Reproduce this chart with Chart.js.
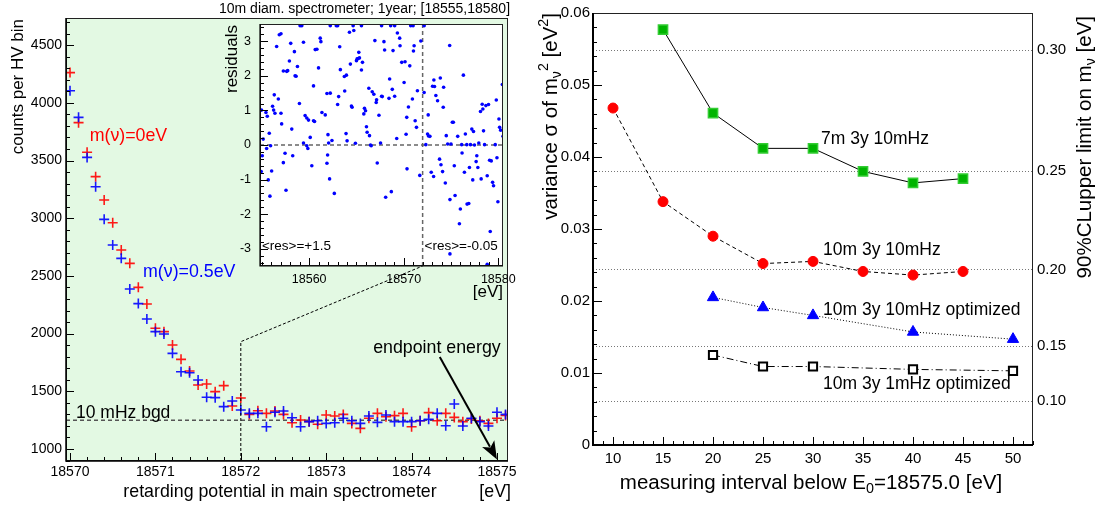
<!DOCTYPE html>
<html>
<head>
<meta charset="utf-8">
<script src="https://cdn.jsdelivr.net/npm/chart.js@4.4.1/dist/chart.umd.min.js"></script>
<style>
  html, body { margin: 0; padding: 0; background: #fff; }
  #wrap { position: relative; width: 1101px; height: 506px; overflow: hidden; }
  canvas { position: absolute; top: 0; }
</style>
</head>
<body>
<div id="wrap">
  <canvas id="spec" width="530" height="506" style="left:0"></canvas>
  <canvas id="resid" width="530" height="506" style="left:0"></canvas>
  <canvas id="sens" width="571" height="506" style="left:530px"></canvas>
</div>
<script>
// ---- left panel: integrated spectrum near the endpoint ----
const energies = [
  18570.0, 18570.1, 18570.2, 18570.3, 18570.4, 18570.5, 18570.6, 18570.7, 18570.8, 18570.9,
  18571.0, 18571.1, 18571.2, 18571.3, 18571.4, 18571.5, 18571.6, 18571.7, 18571.8, 18571.9,
  18572.0, 18572.1, 18572.2, 18572.3, 18572.4, 18572.5, 18572.6, 18572.7, 18572.8, 18572.9,
  18573.0, 18573.1, 18573.2, 18573.3, 18573.4, 18573.5, 18573.6, 18573.7, 18573.8, 18573.9,
  18574.0, 18574.1, 18574.2, 18574.3, 18574.4, 18574.5, 18574.6, 18574.7, 18574.8, 18574.9,
  18575.0, 18575.1
];
const countsMass0 = [
  4262, 3828, 3571, 3360, 3158, 2961, 2724, 2609, 2401, 2256,
  2046, 2017, 1901, 1777, 1676, 1555, 1563, 1497, 1549, 1373,
  1442, 1300, 1332, 1309, 1329, 1300, 1228, 1251, 1237, 1214,
  1295, 1286, 1300, 1222, 1179, 1266, 1309, 1280, 1289, 1309,
  1193, 1245, 1315, 1245, 1309, 1274, 1237, 1260, 1245, 1222,
  1266, 1290
];
const countsMass05 = [
  4105, 3874, 3527, 3273, 2990, 2768, 2652, 2386, 2260, 2127,
  2017, 1996, 1829, 1670, 1661, 1598, 1448, 1445, 1367, 1416,
  1338, 1309, 1309, 1193, 1318, 1329, 1271, 1193, 1237, 1245,
  1222, 1228, 1266, 1245, 1222, 1286, 1231, 1295, 1237, 1237,
  1237, 1245, 1257, 1309, 1202, 1390, 1199, 1266, 1237, 1199,
  1318, 1300
];
const specXTicks = [18570, 18571, 18572, 18573, 18574, 18575];
const specYTicks = [1000, 1500, 2000, 2500, 3000, 3500, 4000, 4500];
const bgdLevel = 1250;
const zoomStart = 18572;
const zoomCount = 1930;
const endpoint = 18575;

// ---- inset: residuals ----
const resE = [
  18559.04, 18559.22, 18562.23, 18562.87, 18563.01, 18564.65, 18565.53, 18567.66, 18568.62, 18569.04, 18570.74, 18570.99, 18572.16,
  18556.84, 18557.02, 18556.56, 18559.40, 18558.05, 18558.44, 18557.91, 18557.27, 18557.62, 18557.73,
  18558.51, 18558.62, 18558.76, 18558.97, 18556.31, 18556.74, 18556.13, 18556.24, 18556.38, 18554.96,
  18555.43, 18555.57, 18557.02, 18557.09, 18558.16, 18555.78, 18555.14, 18555.50, 18555.92, 18555.04,
  18554.93, 18556.03, 18555.67, 18555.85, 18557.55, 18557.27, 18557.45, 18558.26, 18559.40, 18559.57,
  18559.75, 18559.93, 18560.11, 18560.28, 18559.75, 18559.86, 18560.46, 18560.57, 18560.46, 18560.64,
  18560.82, 18560.99, 18561.17, 18561.24, 18561.35, 18561.70, 18561.88, 18561.99, 18562.06, 18561.95,
  18561.88, 18562.23, 18562.16, 18562.66, 18562.41, 18563.12, 18563.01, 18563.23, 18563.30, 18563.72,
  18563.76, 18563.94, 18563.90, 18564.01, 18564.26, 18564.36, 18564.47, 18564.54, 18564.72, 18565.00,
  18565.07, 18565.18, 18565.25, 18565.32, 18565.53, 18565.64, 18564.89, 18565.78, 18565.85, 18565.96,
  18566.06, 18566.13, 18566.38, 18566.31, 18566.49, 18566.56, 18566.67, 18566.84, 18566.95, 18567.09,
  18567.13, 18567.20, 18567.38, 18567.55, 18567.66, 18567.73, 18567.91, 18567.98, 18568.09, 18568.44,
  18568.51, 18568.69, 18568.79, 18568.87, 18569.04, 18569.26, 18569.33, 18569.57, 18569.61, 18569.79,
  18570.04, 18570.14, 18570.25, 18570.32, 18570.35, 18570.50, 18570.64, 18570.92, 18571.10, 18571.03,
  18571.21, 18571.35, 18571.45, 18571.81, 18571.70, 18572.16,
  18572.34, 18572.52, 18572.59, 18572.77, 18572.62, 18572.91, 18573.05, 18573.16, 18573.19, 18573.26,
  18573.40, 18573.58, 18573.79, 18573.94, 18573.87, 18574.11, 18574.18, 18574.22, 18574.40, 18574.50,
  18574.65, 18574.89, 18575.00, 18574.86, 18575.14, 18575.25, 18575.35, 18575.43, 18575.71, 18575.89,
  18575.99, 18576.13, 18576.17, 18576.31, 18576.42, 18576.52, 18576.70, 18576.88, 18576.67, 18576.95,
  18577.06, 18577.20, 18577.30, 18577.38, 18577.48, 18577.66, 18577.73, 18577.84, 18577.94, 18578.12,
  18578.19, 18578.30, 18578.37, 18578.44, 18578.55, 18578.69, 18578.83, 18578.97, 18579.08, 18579.15,
  18579.26, 18579.40, 18579.50, 18579.68, 18579.79, 18579.86, 18579.96, 18580.07, 18580.14, 18580.25,
  18580.43, 18580.50, 18574.89, 18578.83
];
const resVal = [
  3.45, 3.45, 3.45, 3.45, 3.45, 3.45, 3.45, 3.45, 3.45, 3.45, 3.45, 3.45, 3.45,
  3.19, 3.22, 2.85, 2.97, 2.94, 2.70, 2.43, 2.14, 2.13, 2.15,
  2.00, 1.99, 2.27, 1.20, 1.45, 1.33, 1.12, 1.01, 0.92, 1.01,
  0.94, 0.83, 0.92, 0.61, 0.46, 0.34, 0.17, -0.10, -0.02, -0.31,
  -0.77, -0.75, -1.01, -1.48, -1.31, -0.51, -0.24, -0.31, 0.06, 0.85,
  0.78, 0.72, 0.22, -0.60, -0.02, -0.10, 0.70, 0.68, 1.71, 2.76,
  2.77, 2.23, 3.09, 2.99, 0.94, 0.87, 1.49, 0.30, 0.06, -0.29,
  -0.53, 1.50, -0.98, -1.40, 0.13, 1.40, 1.17, 2.84, 2.18, 1.98,
  1.56, 2.02, 0.33, 0.12, 3.26, 2.34, 1.13, 1.09, 3.31, 2.44,
  2.49, 2.50, 2.68, 2.52, 2.17, 2.39, 0.05, 0.90, 1.06, 0.99,
  0.53, 0.37, 0.27, 1.64, 0.00, -0.02, 1.54, 1.47, 3.02, 1.23,
  1.31, -0.52, 0.86, 0.06, 1.41, 1.40, 2.99, 2.75, -1.51, 1.35,
  1.91, -1.35, 1.61, 2.73, 1.41, 0.19, 3.24, 3.09, 2.87, 2.39,
  1.81, 2.41, 0.31, 0.80, -0.69, 1.10, 2.29, 1.33, 2.87, 2.72,
  0.70, 0.51, 1.57, 3.01, -0.88, 1.52,
  0.01, 0.32, 0.87, 0.25, 0.26, -0.79, 1.70, -0.91, 1.88, 1.69,
  1.43, 1.28, -0.41, -0.57, 1.94, -0.77, 1.09, 1.67, -1.10, 0.27,
  0.03, -1.58, 0.03, 2.88, 0.66, 0.66, -0.60, -1.46, 0.25, -2.28,
  -1.85, 0.01, -0.23, 2.02, -0.79, 0.32, -1.71, -1.69, 0.01, -0.65,
  0.01, 0.46, -1.01, 0.39, 0.00, -0.48, -0.31, -0.65, 0.06, 0.97,
  -0.98, 1.18, 1.04, 0.41, 0.01, 1.14, -0.89, 1.17, -0.44, -2.50,
  -0.46, -1.08, -1.18, 0.01, 1.30, -0.37, -1.64, 0.75, 0.51, 0.43,
  1.75, 0.25, -3.15, -3.45
];
const resXTicks = [18560, 18570, 18580];
const resYTicks = [-3, -2, -1, 0, 1, 2, 3];

// ---- right panel: sensitivity vs. measuring interval ----
const intervals7m = [15, 20, 25, 30, 35, 40, 45];
const sigma7m10mHz = [0.0577, 0.0461, 0.0412, 0.0412, 0.0380, 0.0364, 0.0370];
const intervals10m = [10, 15, 20, 25, 30, 35, 40, 45];
const sigma10m10mHz = [0.0468, 0.0338, 0.0290, 0.0252, 0.0255, 0.0241, 0.0236, 0.0241];
const intervalsOpt = [20, 25, 30, 40, 50];
const sigma10m10mHzOpt = [0.0205, 0.0191, 0.0180, 0.0157, 0.0147];
const sigma10m1mHzOpt = [0.0125, 0.0109, 0.0109, 0.0105, 0.0103];
const sensXTicks = [10, 15, 20, 25, 30, 35, 40, 45, 50];
const sensYTicks = [0, 0.01, 0.02, 0.03, 0.04, 0.05, 0.06];
const massLimitTicks = [0.10, 0.15, 0.20, 0.25, 0.30];

const FONT = "'Liberation Sans', Arial, Helvetica, sans-serif";
Chart.defaults.font.family = FONT;
Chart.defaults.color = '#000';

const pts = (xs, ys) => xs.map((x, i) => ({ x, y: ys[i] }));
const fixTicks = list => scale => { scale.ticks = list.map(v => ({ value: v })); };

// text with optional sub/superscript pieces: parts = [[text, 'sub'|'sup'|'']]
function rich(ctx, parts, x, y, size, align, rot, color) {
  ctx.save();
  ctx.translate(x, y);
  if (rot) ctx.rotate(rot);
  ctx.fillStyle = color || '#000';
  ctx.textBaseline = 'middle';
  ctx.textAlign = 'left';
  const fonts = parts.map(p => (p[1] ? size * 0.7 : size) + 'px ' + FONT);
  const widths = parts.map((p, i) => { ctx.font = fonts[i]; return ctx.measureText(p[0]).width; });
  const total = widths.reduce((s, w) => s + w, 0);
  let cx = align === 'right' ? -total : align === 'center' ? -total / 2 : 0;
  parts.forEach((p, i) => {
    ctx.font = fonts[i];
    const dy = p[1] === 'sub' ? size * 0.3 : p[1] === 'sup' ? -size * 0.35 : 0;
    ctx.fillText(p[0], cx, dy);
    cx += widths[i];
  });
  ctx.restore();
}

// ROOT style ticks pointing into the frame
function innerTicks(chart, id, majorStep, minorStep, majorLen, minorLen) {
  const s = chart.scales[id], a = chart.chartArea, ctx = chart.ctx;
  ctx.save();
  ctx.strokeStyle = '#000';
  ctx.lineWidth = 1;
  ctx.beginPath();
  const k0 = Math.ceil(s.min / minorStep - 1e-6), k1 = Math.floor(s.max / minorStep + 1e-6);
  for (let k = k0; k <= k1; k++) {
    const v = k * minorStep, r = v / majorStep;
    const len = Math.abs(r - Math.round(r)) < 1e-6 ? majorLen : minorLen;
    const p = Math.round(s.getPixelForValue(v)) + 0.5;
    if (s.isHorizontal()) { ctx.moveTo(p, a.bottom); ctx.lineTo(p, a.bottom - len); }
    else { ctx.moveTo(a.left, p); ctx.lineTo(a.left + len, p); }
  }
  ctx.stroke();
  ctx.restore();
}

function frame(chart, axisWidth) {
  const a = chart.chartArea, ctx = chart.ctx;
  ctx.save();
  ctx.strokeStyle = '#222';
  ctx.lineWidth = 1;
  ctx.strokeRect(a.left + 0.5, a.top + 0.5, a.right - a.left - 1, a.bottom - a.top - 1);
  ctx.strokeStyle = '#000';
  ctx.lineWidth = axisWidth;
  ctx.beginPath();
  ctx.moveTo(a.left, a.top);
  ctx.lineTo(a.left, a.bottom);
  ctx.lineTo(a.right, a.bottom);
  ctx.stroke();
  ctx.restore();
}

const noGrid = { display: false, drawTicks: false };
const noBorder = { display: false };

// ---------- main spectrum ----------
const specDecor = {
  id: 'specDecor',
  beforeDraw(chart) {
    const { ctx, chartArea: a } = chart;
    ctx.save();
    ctx.fillStyle = '#e3f9e3';
    ctx.fillRect(a.left, a.top, a.right - a.left, a.bottom - a.top);
    const y = chart.scales.y.getPixelForValue(bgdLevel);
    ctx.strokeStyle = '#555';
    ctx.lineWidth = 1.5;
    ctx.setLineDash([4, 3]);
    ctx.beginPath();
    ctx.moveTo(a.left, y);
    ctx.lineTo(a.right, y);
    ctx.stroke();
    ctx.restore();
  },
  afterDraw(chart) {
    const { ctx, chartArea: a, scales: { x, y } } = chart;
    innerTicks(chart, 'y', 500, 100, 8, 4);
    innerTicks(chart, 'x', 1, 0.2, 8, 4);
    frame(chart, 1.5);
    rich(ctx, [['m(ν)=0eV']], x.getPixelForValue(18570.23), y.getPixelForValue(3712), 17.8, 'left', 0, '#ff0000');
    rich(ctx, [['m(ν)=0.5eV']], x.getPixelForValue(18570.855), y.getPixelForValue(2534), 17.8, 'left', 0, '#0000ff');
    rich(ctx, [['10 mHz bgd']], x.getPixelForValue(18570.07), y.getPixelForValue(1312), 17.5, 'left', 0, '#000');
    rich(ctx, [['endpoint energy']], x.getPixelForValue(18573.55), y.getPixelForValue(1875), 17.8, 'left', 0, '#000');
    // arrow to the endpoint
    const x0 = x.getPixelForValue(18574.33), y0 = y.getPixelForValue(1797);
    const x1 = x.getPixelForValue(endpoint), y1 = y.getPixelForValue(910);
    const ang = Math.atan2(y1 - y0, x1 - x0), L = 18, W = 7;
    ctx.save();
    ctx.strokeStyle = '#000';
    ctx.fillStyle = '#000';
    ctx.lineWidth = 2;
    ctx.beginPath();
    ctx.moveTo(x0, y0);
    ctx.lineTo(x1 - Math.cos(ang) * L * 0.8, y1 - Math.sin(ang) * L * 0.8);
    ctx.stroke();
    ctx.beginPath();
    ctx.moveTo(x1, y1);
    ctx.lineTo(x1 - Math.cos(ang) * L + Math.sin(ang) * W, y1 - Math.sin(ang) * L - Math.cos(ang) * W);
    ctx.lineTo(x1 - Math.cos(ang) * L * 0.75, y1 - Math.sin(ang) * L * 0.75);
    ctx.lineTo(x1 - Math.cos(ang) * L - Math.sin(ang) * W, y1 - Math.sin(ang) * L + Math.cos(ang) * W);
    ctx.closePath();
    ctx.fill();
    ctx.restore();
    // axis titles
    rich(ctx, [['retarding potential in main spectrometer']], (a.left + a.right) / 2 - 7, a.bottom + 31, 17.8, 'center');
    rich(ctx, [['[eV]']], a.right + 3, a.bottom + 31, 17.8, 'right');
    rich(ctx, [['counts per HV bin']], 18, a.top + 1, 17, 'right', -Math.PI / 2);
  }
};

const spec = new Chart(document.getElementById('spec'), {
  type: 'scatter',
  data: {
    datasets: [
      { data: pts(energies, countsMass05), pointStyle: 'cross', pointRadius: 5, borderWidth: 1.6,
        borderColor: 'rgba(0,0,255,0.9)', backgroundColor: 'rgba(0,0,255,0.9)' },
      { data: pts(energies, countsMass0), pointStyle: 'cross', pointRadius: 5, borderWidth: 1.6,
        borderColor: 'rgba(255,0,0,0.9)', backgroundColor: 'rgba(255,0,0,0.9)' }
    ]
  },
  options: {
    responsive: false, animation: false, devicePixelRatio: 1,
    layout: { autoPadding: false, padding: { left: 0, top: 18, right: 22, bottom: 0 } },
    plugins: { legend: { display: false }, tooltip: { enabled: false } },
    scales: {
      x: { type: 'linear', min: 18569.953, max: 18575.129, grid: noGrid, border: noBorder,
           afterBuildTicks: fixTicks(specXTicks), afterFit: s => { s.height = 45; },
           ticks: { font: { size: 14 }, padding: 3, maxRotation: 0, callback: v => String(v) } },
      y: { type: 'linear', min: 896, max: 4735, grid: noGrid, border: noBorder,
           afterBuildTicks: fixTicks(specYTicks), afterFit: s => { s.width = 66; },
           ticks: { font: { size: 14 }, padding: 4, callback: v => String(v) } }
    }
  },
  plugins: [specDecor]
});

// ---------- inset: residuals ----------
const residDecor = {
  id: 'residDecor',
  beforeDraw(chart) {
    const { ctx, chartArea: a, scales: { x, y } } = chart;
    ctx.save();
    ctx.fillStyle = '#fff';
    ctx.fillRect(a.left, a.top, a.right - a.left, a.bottom - a.top);
    ctx.strokeStyle = '#666';
    ctx.lineWidth = 1.5;
    ctx.setLineDash([4, 3]);
    ctx.beginPath();
    const y0 = y.getPixelForValue(0), xs = x.getPixelForValue(zoomStart);
    ctx.moveTo(a.left, y0); ctx.lineTo(a.right, y0);
    ctx.moveTo(xs, a.top); ctx.lineTo(xs, a.bottom);
    ctx.stroke();
    ctx.restore();
  },
  afterDraw(chart) {
    const { ctx, chartArea: a, scales: { x, y } } = chart;
    innerTicks(chart, 'y', 1, 0.2, 8, 4);
    innerTicks(chart, 'x', 10, 1, 8, 4);
    frame(chart, 1.2);
    // dashed guide from the main spectrum up to the inset
    const mx = spec.scales.x.getPixelForValue(zoomStart);
    ctx.save();
    ctx.strokeStyle = '#000';
    ctx.lineWidth = 1;
    ctx.setLineDash([3, 2]);
    ctx.beginPath();
    ctx.moveTo(mx, spec.chartArea.bottom);
    ctx.lineTo(mx, spec.scales.y.getPixelForValue(zoomCount));
    ctx.lineTo(x.getPixelForValue(zoomStart), a.bottom);
    ctx.stroke();
    ctx.restore();
    rich(ctx, [['<res>=+1.5']], x.getPixelForValue(18555.0), y.getPixelForValue(-2.92), 13.5, 'left');
    rich(ctx, [['<res>=-0.05']], x.getPixelForValue(18572.2), y.getPixelForValue(-2.92), 13.5, 'left');
    rich(ctx, [['10m diam. spectrometer; 1year; [18555,18580]']], (a.left + a.right) / 2 - 17, 9, 14, 'center');
    rich(ctx, [['[eV]']], a.right, a.bottom + 26, 17, 'right');
    rich(ctx, [['residuals']], a.left - 28, a.top + 1, 17, 'right', -Math.PI / 2);
  }
};

new Chart(document.getElementById('resid'), {
  type: 'scatter',
  data: {
    datasets: [
      { data: pts(resE, resVal), pointStyle: 'circle', pointRadius: 1.8, borderWidth: 0,
        backgroundColor: '#0000ff', borderColor: '#0000ff' }
    ]
  },
  options: {
    responsive: false, animation: false, devicePixelRatio: 1,
    layout: { autoPadding: false, padding: { left: 230, top: 24, right: 27, bottom: 206 } },
    plugins: { legend: { display: false }, tooltip: { enabled: false } },
    scales: {
      x: { type: 'linear', min: 18554.8, max: 18580.5, grid: noGrid, border: noBorder,
           afterBuildTicks: fixTicks(resXTicks), afterFit: s => { s.height = 34; },
           ticks: { font: { size: 12.5 }, padding: 6, maxRotation: 0, callback: v => String(v) } },
      y: { type: 'linear', min: -3.5, max: 3.5, grid: noGrid, border: noBorder,
           afterBuildTicks: fixTicks(resYTicks), afterFit: s => { s.width = 30; },
           ticks: { font: { size: 12.5 }, padding: 9, callback: v => String(v) } }
    }
  },
  plugins: [residDecor]
});

// ---------- right panel ----------
const sensDecor = {
  id: 'sensDecor',
  beforeDatasetsDraw(chart) {
    const { ctx, chartArea: a } = chart;
    const s = chart.scales.y2;
    ctx.save();
    ctx.strokeStyle = '#777';
    ctx.lineWidth = 1;
    ctx.setLineDash([1, 2]);
    ctx.beginPath();
    s.ticks.forEach(t => {
      const p = Math.round(s.getPixelForValue(t.value)) + 0.5;
      ctx.moveTo(a.left, p);
      ctx.lineTo(a.right, p);
    });
    ctx.stroke();
    ctx.restore();
  },
  afterDraw(chart) {
    const { ctx, chartArea: a, scales: { x, y } } = chart;
    innerTicks(chart, 'y', 0.01, 0.002, 9, 4);
    innerTicks(chart, 'x', 5, 1, 8, 4);
    frame(chart, 2);
    rich(ctx, [['7m 3y 10mHz']], x.getPixelForValue(30.8), y.getPixelForValue(0.0425), 17.5, 'left');
    rich(ctx, [['10m 3y 10mHz']], x.getPixelForValue(31.0), y.getPixelForValue(0.0270), 17.5, 'left');
    rich(ctx, [['10m 3y 10mHz optimized']], x.getPixelForValue(31.0), y.getPixelForValue(0.0187), 17.5, 'left');
    rich(ctx, [['10m 3y 1mHz optimized']], x.getPixelForValue(31.0), y.getPixelForValue(0.0085), 17.5, 'left');
    rich(ctx, [['measuring interval below E'], ['0', 'sub'], ['=18575.0 [eV]']], (a.left + a.right) / 2 - 2, a.bottom + 38, 20.5, 'center');
    rich(ctx, [['variance σ of m'], ['ν', 'sub'], ['2', 'sup'], [' [eV'], ['2', 'sup'], [']']], 21, a.top, 20.5, 'right', -Math.PI / 2);
    rich(ctx, [['90%CLupper limit on m'], ['ν', 'sub'], [' [eV]']], a.right + 52, a.top + 3, 20.5, 'right', -Math.PI / 2);
  }
};

new Chart(document.getElementById('sens'), {
  type: 'line',
  data: {
    datasets: [
      { data: pts(intervals7m, sigma7m10mHz), borderColor: '#000', borderWidth: 1,
        pointStyle: 'rect', pointRadius: 6.5, pointBorderWidth: 1.5,
        pointBackgroundColor: '#00b400', pointBorderColor: '#33cc33' },
      { data: pts(intervals10m, sigma10m10mHz), borderColor: '#000', borderWidth: 1, borderDash: [4, 3],
        pointStyle: 'circle', pointRadius: 5, pointBorderWidth: 1,
        pointBackgroundColor: '#ff0000', pointBorderColor: '#ff0000' },
      { data: pts(intervalsOpt, sigma10m10mHzOpt), borderColor: '#000', borderWidth: 1, borderDash: [1, 2],
        pointStyle: 'triangle', pointRadius: 6.5, pointBorderWidth: 1,
        pointBackgroundColor: '#0000ff', pointBorderColor: '#0000ff' },
      { data: pts(intervalsOpt, sigma10m1mHzOpt), borderColor: '#000', borderWidth: 1, borderDash: [7, 3, 1, 3],
        pointStyle: 'rect', pointRadius: 5.8, pointBorderWidth: 2,
        pointBackgroundColor: '#fff', pointBorderColor: '#000' }
    ]
  },
  options: {
    responsive: false, animation: false, devicePixelRatio: 1,
    layout: { autoPadding: false, padding: { left: 0, top: 5, right: 0, bottom: 0 } },
    plugins: { legend: { display: false }, tooltip: { enabled: false } },
    elements: { line: { tension: 0 } },
    scales: {
      x: { type: 'linear', min: 8, max: 52, grid: noGrid, border: noBorder,
           afterBuildTicks: fixTicks(sensXTicks), afterFit: s => { s.height = 61; },
           ticks: { font: { size: 15 }, padding: 5, maxRotation: 0, callback: v => String(v) } },
      y: { type: 'linear', position: 'left', min: 0, max: 0.06, grid: noGrid, border: noBorder,
           afterBuildTicks: fixTicks(sensYTicks), afterFit: s => { s.width = 63; },
           ticks: { font: { size: 15 }, padding: 3, callback: v => (v === 0 ? '0' : v.toFixed(2)) } },
      y2: { type: 'linear', position: 'right', min: 0, max: 0.06, grid: noGrid, border: noBorder,
            afterBuildTicks: s => { s.ticks = massLimitTicks.map(m => ({ value: m * m / 1.64 })); },
            afterFit: s => { s.width = 68; },
            ticks: { font: { size: 15 }, padding: 4, callback: (v, i) => massLimitTicks[i].toFixed(2) } }
    }
  },
  plugins: [sensDecor]
});
</script>
</body>
</html>
